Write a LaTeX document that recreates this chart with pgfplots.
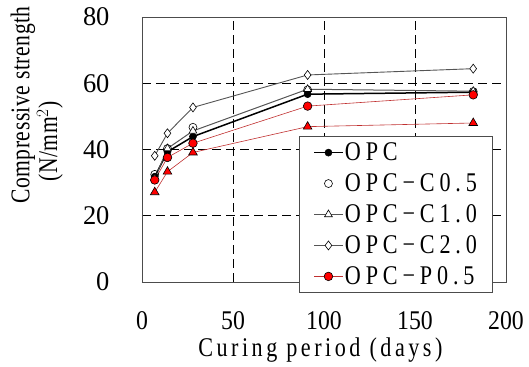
\documentclass[border=0pt]{standalone}
\usepackage{fontspec}
\setmainfont{Liberation Serif}[FakeStretch=0.82]
\newfontfamily\legfont{Liberation Serif}[FakeStretch=0.82,LetterSpace=18]
\newfontfamily\labfont{Liberation Serif}[FakeStretch=0.82,LetterSpace=13]
\newfontfamily\ylabfont{Liberation Serif}[FakeStretch=0.8,LetterSpace=2]
\newfontfamily\xtfont{Liberation Serif}[FakeStretch=0.88]
\newfontfamily\ytfont{Liberation Serif}[FakeStretch=0.98]
\usepackage{pgfplots}
\pgfplotsset{compat=1.18}
\definecolor{lgray}{HTML}{555555}
\definecolor{dred}{HTML}{C03030}
\begin{document}
\begin{tikzpicture}
\begin{axis}[
  scale only axis, width=364pt, height=265pt,
  xmin=0, xmax=200, ymin=0, ymax=80,
  xtick={0,50,100,150,200}, ytick={0,20,40,60,80},
  major tick length=0pt,
  /pgf/number format/assume math mode=true,
  xticklabel style={font=\xtfont\fontsize{27}{29}\selectfont, yshift=-26pt},
  yticklabel style={font=\ytfont\fontsize{27}{29}\selectfont, xshift=-29pt},
  grid=major,
  major grid style={black, line width=0.7pt, dash pattern=on 9pt off 5pt},
  axis line style={gray!60!black, line width=0.8pt},
  xlabel={Curing period (days)},
  xlabel style={font=\labfont\fontsize{27}{29}\selectfont, at={(axis description cs:0.49,0)}, anchor=center, yshift=-68pt},
  ylabel={Compressive strength},
  ylabel style={font=\ylabfont\fontsize{27}{29}\selectfont, at={(axis description cs:-0.327,0.668)}, anchor=center},
  legend style={font=\legfont\fontsize{27}{29}\selectfont, at={(rel axis cs:0.964,0.551)}, anchor=north east,
    draw=gray!60!black, line width=0.9pt, fill=white, row sep=8.5pt, inner xsep=14pt, inner ysep=5pt,
    nodes={inner sep=1.5pt}},
  legend cell align=left,
  legend image code/.code={\draw[mark repeat=2,mark phase=2] plot coordinates {(0cm,0cm) (0.5cm,0cm) (1cm,0cm)};},
  clip=false,
]
% OPC
\addplot[black, line width=1.5pt, mark=*, mark size=3.5pt, mark options={solid, fill=black, line width=0.6pt}]
  coordinates {(7,31.8) (14,39.3) (28,43.9) (91,56.7) (182,57.3)};
\addlegendentry{OPC}
% OPC-C0.5
\addplot[only marks, black, mark=o, mark size=4pt, mark options={solid, fill=white, line width=0.6pt}]
  coordinates {(7,32.5) (14,40.3) (28,46.7) (91,58.0) (182,57.5)};
\addlegendentry{OPC−C0.5}
% OPC-C1.0
\addplot[lgray, line width=1.0pt, mark=triangle*, mark size=4.5pt, mark options={solid, draw=black, fill=white, line width=0.6pt}]
  coordinates {(7,31.2) (14,40.3) (28,45.6) (91,58.2) (182,57.6)};
\addlegendentry{OPC−C1.0}
% OPC-C2.0
\addplot[lgray, line width=0.9pt, mark=diamond*, mark size=4.5pt, mark options={solid, draw=black, fill=white, line width=0.6pt}]
  coordinates {(7,38.1) (14,44.9) (28,52.7) (91,62.5) (182,64.4)};
\addlegendentry{OPC−C2.0}
% OPC-P0.5
\addplot[dred, line width=0.6pt, mark=*, mark size=4.3pt, mark options={solid, draw=black, fill=red, line width=0.6pt}]
  coordinates {(7,30.8) (14,37.6) (28,41.9) (91,53.1) (182,56.5)};
\addlegendentry{OPC−P0.5}
% red triangles (not in legend)
\addplot[dred, line width=0.6pt, mark=triangle*, mark size=5pt, forget plot, mark options={solid, draw=black, fill=red, line width=0.6pt}]
  coordinates {(7,27.1) (14,33.3) (28,39.1) (91,46.9) (182,48.0)};
\node[font=\ylabfont\fontsize{27}{29}\selectfont, rotate=90, anchor=center] at (rel axis cs:-0.253,0.53) {(N/mm$^{2}$)};
\end{axis}
\pgfresetboundingbox
\path[use as bounding box] ([shift={(-142pt,-85pt)}]current axis.south west) rectangle ([shift={(23pt,17pt)}]current axis.north east);
\end{tikzpicture}
\end{document}
